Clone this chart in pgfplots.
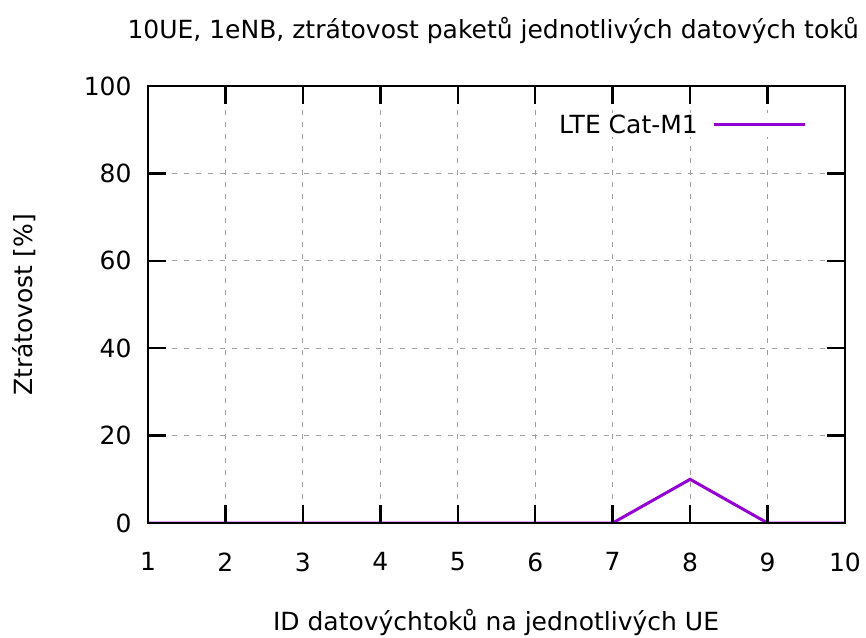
\documentclass[border=0pt]{standalone}
\usepackage{fontspec}
\setmainfont{DejaVu Sans}
\usepackage{pgfplots}
\pgfplotsset{compat=1.18}
\definecolor{gpurple}{HTML}{9400D3}
\begin{document}
\begin{tikzpicture}[font=\fontsize{25}{29}\selectfont]
\useasboundingbox (0,0) rectangle (866pt,-637pt);
\begin{axis}[
  at={(148pt,-523pt)}, anchor=south west,
  scale only axis, width=697pt, height=437pt,
  xmin=1, xmax=10, ymin=0, ymax=100,
  xtick={1,...,10}, ytick={0,20,...,100},
  /pgf/number format/assume math mode=true,
  tick align=inside, major tick length=18pt,
  every tick/.style={black, line width=2.5pt},
  axis line style={line width=2.5pt},
  grid=major,
  major grid style={gray!75, line width=1.2pt, dash pattern=on 5pt off 7pt},
  xticklabel style={yshift=-26pt},
  yticklabel style={xshift=-13pt},
  legend plot pos=right,
  legend style={at={(rel axis cs:0.9455,0.9108)}, anchor=east, draw=none, fill=white, inner sep=0pt, font=\fontsize{25}{29}\selectfont},
  legend image code/.code={\path (0pt,0pt); \draw[#1] (13pt,0pt) -- (104pt,0pt);},
  axis on top,
]
\addplot[gpurple, line width=3pt] coordinates {(1,0) (2,0) (3,0) (4,0) (5,0) (6,0) (7,0) (8,10) (9,0) (10,0)};
\addlegendentry{LTE Cat-M1}
\end{axis}
\node[anchor=west] at (124pt,-30pt) {10UE, 1eNB, ztrátovost paketů jednotlivých datových toků};
\node[rotate=90] at (24pt,-305pt) {Ztrátovost [\%]};
\node at (496pt,-622pt) {ID datovýchtoků na jednotlivých UE};
\end{tikzpicture}
\end{document}
